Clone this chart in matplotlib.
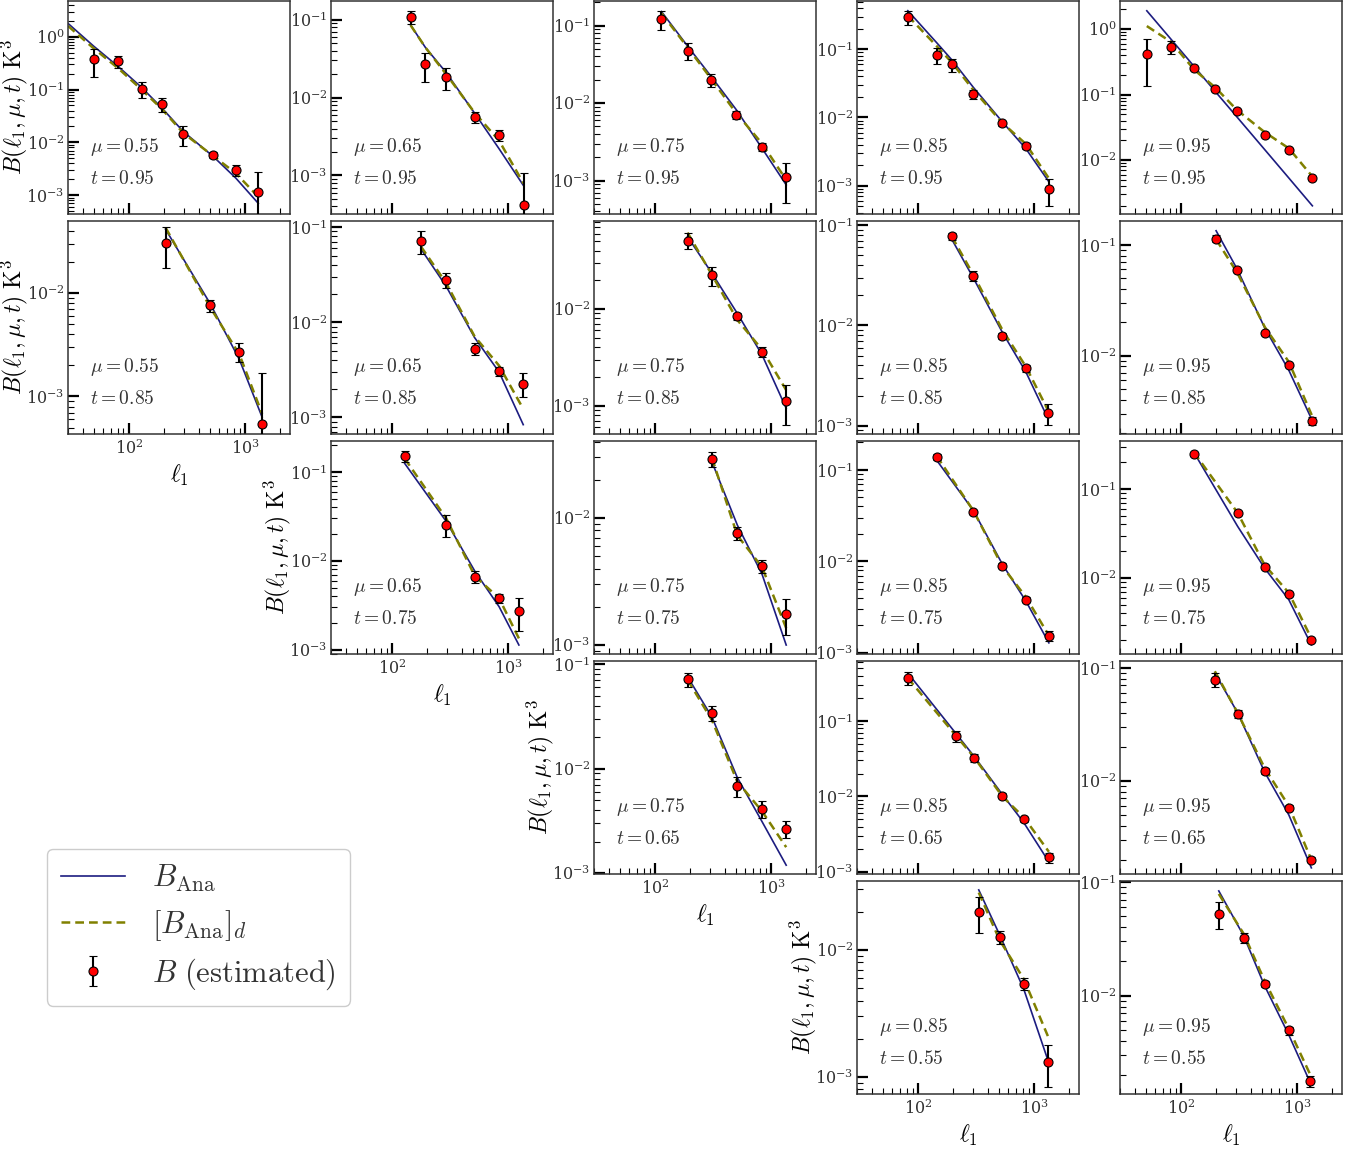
import numpy as np
import matplotlib
matplotlib.use('Agg')
import matplotlib.pyplot as plt

plt.rcParams['mathtext.fontset'] = 'cm'
plt.rcParams['font.family'] = ['DejaVu Serif']
plt.rcParams['text.color'] = '#333333'
plt.rcParams['xtick.labelcolor'] = '#333333'
plt.rcParams['ytick.labelcolor'] = '#333333'

nan = np.nan
mu_vals = [0.55, 0.65, 0.75, 0.85, 0.95]
t_vals = [0.95, 0.85, 0.75, 0.65, 0.55]

# keys are (t, mu)
ell = {
    (0.95, 0.55): [30, 50, 81.5, 128.6, 192, 294, 532, 832, 1297],
    (0.95, 0.65): [145, 194.5, 293, 519, 836, 1356],
    (0.95, 0.75): [114, 192, 302, 502, 836, 1347],
    (0.95, 0.85): [82, 147, 196, 300, 534, 848, 1339],
    (0.95, 0.95): [51, 82, 131, 198, 304, 525, 848, 1352],
    (0.85, 0.55): [207, 500, 893, 1400],
    (0.85, 0.65): [178, 293, 515, 836, 1348],
    (0.85, 0.75): [191, 310, 512, 836, 1347],
    (0.85, 0.85): [196, 300, 534, 848, 1312],
    (0.85, 0.95): [201, 306, 528, 848, 1334],
    (0.75, 0.65): [129, 293, 519, 836, 1237],
    (0.75, 0.75): [310, 512, 836, 1347],
    (0.75, 0.85): [145, 300, 534, 848, 1339],
    (0.75, 0.95): [129, 308, 525, 848, 1325],
    (0.65, 0.75): [192, 310, 512, 836, 1347],
    (0.65, 0.85): [82, 211, 303, 534, 815, 1339],
    (0.65, 0.95): [196, 308, 525, 848, 1325],
    (0.55, 0.85): [334, 506, 815, 1312],
    (0.55, 0.95): [212, 347, 525, 848, 1300],
}

B_est = {
    (0.95, 0.55): [nan, 0.38, 0.344, 0.103, 0.053, 0.0147, 0.00586, 0.0030, 0.00116],
    (0.95, 0.65): [0.108, 0.0267, 0.0182, 0.00565, 0.0033, 0.00042],
    (0.95, 0.75): [0.121, 0.0476, 0.0199, 0.00706, 0.00273, 0.00111],
    (0.95, 0.85): [0.30, 0.0825, 0.060, 0.0219, 0.0083, 0.00383, 0.00089],
    (0.95, 0.95): [0.415, 0.531, 0.254, 0.123, 0.0562, 0.024, 0.0140, 0.00525],
    (0.85, 0.55): [0.0304, 0.00758, 0.00272, 0.00054],
    (0.85, 0.65): [0.0718, 0.028, 0.00526, 0.00306, 0.00227],
    (0.85, 0.75): [0.0509, 0.0223, 0.0084, 0.00362, 0.00113],
    (0.85, 0.85): [0.0777, 0.0311, 0.00783, 0.00373, 0.00133],
    (0.85, 0.95): [0.114, 0.0592, 0.0159, 0.00825, 0.00258],
    (0.75, 0.65): [0.151, 0.0255, 0.00666, 0.0038, 0.00274],
    (0.75, 0.75): [0.0292, 0.0076, 0.0042, 0.00175],
    (0.75, 0.85): [0.139, 0.0348, 0.0090, 0.00384, 0.00155],
    (0.75, 0.95): [0.247, 0.0538, 0.0133, 0.0066, 0.00201],
    (0.65, 0.75): [0.0718, 0.034, 0.00688, 0.00414, 0.00267],
    (0.65, 0.85): [0.371, 0.0633, 0.0324, 0.0103, 0.00496, 0.00156],
    (0.65, 0.95): [0.0783, 0.0392, 0.0123, 0.00577, 0.0020],
    (0.55, 0.85): [0.0199, 0.0127, 0.0054, 0.00131],
    (0.55, 0.95): [0.0524, 0.0323, 0.0127, 0.00493, 0.00176],
}

B_err = {
    (0.95, 0.55): [nan, 0.21, 0.085, 0.034, 0.015, 0.006, 0.0007, 0.0007, 0.0016],
    (0.95, 0.65): [0.021, 0.0107, 0.0055, 0.0009, 0.00055, 0.00066],
    (0.95, 0.75): [0.032, 0.012, 0.0039, 0.0009, 0.00035, 0.0006],
    (0.95, 0.85): [0.07, 0.022, 0.013, 0.0033, 0.0007, 0.0004, 0.00038],
    (0.95, 0.95): [0.28, 0.12, 0.01, 0.005, 0.002, 0.001, 0.0006, 0.0002],
    (0.85, 0.55): [0.013, 0.001, 0.00055, 0.00115],
    (0.85, 0.65): [0.02, 0.005, 0.00075, 0.00035, 0.00063],
    (0.85, 0.75): [0.0096, 0.0048, 0.0007, 0.00045, 0.0005],
    (0.85, 0.85): [0.006, 0.0036, 0.0005, 0.0003, 0.00032],
    (0.85, 0.95): [0.008, 0.002, 0.0006, 0.0004, 0.0002],
    (0.75, 0.65): [0.022, 0.007, 0.001, 0.0004, 0.0011],
    (0.75, 0.75): [0.004, 0.0009, 0.0005, 0.00055],
    (0.75, 0.85): [0.012, 0.002, 0.0005, 0.0002, 0.0002],
    (0.75, 0.95): [0.012, 0.003, 0.0006, 0.0003, 0.0001],
    (0.65, 0.75): [0.011, 0.0055, 0.0015, 0.0008, 0.0005],
    (0.65, 0.85): [0.07, 0.01, 0.004, 0.0007, 0.0004, 0.00025],
    (0.65, 0.95): [0.011, 0.003, 0.0007, 0.0003, 0.0001],
    (0.55, 0.85): [0.0064, 0.0015, 0.0006, 0.00047],
    (0.55, 0.95): [0.014, 0.003, 0.0007, 0.0004, 0.0002],
}

B_ana = {
    (0.95, 0.55): [1.79, 0.66, 0.27, 0.11, 0.045, 0.016, 0.0054, 0.0021, 0.0007],
    (0.95, 0.65): [0.0855, 0.044, 0.021, 0.0062, 0.0022, 0.00074],
    (0.95, 0.75): [0.152, 0.054, 0.0225, 0.0082, 0.0026, 0.00088],
    (0.95, 0.85): [0.368, 0.122, 0.070, 0.0277, 0.0086, 0.0035, 0.00114],
    (0.95, 0.95): [1.90, 0.705, 0.265, 0.111, 0.0454, 0.0145, 0.00532, 0.0020],
    (0.85, 0.55): [0.0412, 0.0079, 0.00227, 0.00063],
    (0.85, 0.65): [0.059, 0.0239, 0.0069, 0.0030, 0.00084],
    (0.85, 0.75): [0.0559, 0.0234, 0.0090, 0.00335, 0.00094],
    (0.85, 0.85): [0.072, 0.0297, 0.0085, 0.00345, 0.00119],
    (0.85, 0.95): [0.134, 0.060, 0.0177, 0.0074, 0.00267],
    (0.75, 0.65): [0.125, 0.0279, 0.0076, 0.00305, 0.00113],
    (0.75, 0.75): [0.0276, 0.0088, 0.0036, 0.0010],
    (0.75, 0.85): [0.128, 0.036, 0.0093, 0.0037, 0.00129],
    (0.75, 0.95): [0.26, 0.038, 0.0129, 0.0057, 0.00177],
    (0.65, 0.75): [0.075, 0.031, 0.0082, 0.0031, 0.00119],
    (0.65, 0.85): [0.432, 0.0694, 0.0344, 0.0106, 0.0045, 0.00136],
    (0.65, 0.95): [0.0903, 0.040, 0.0120, 0.0050, 0.0017],
    (0.55, 0.85): [0.0297, 0.0131, 0.0049, 0.00136],
    (0.55, 0.95): [0.0834, 0.0336, 0.0122, 0.0045, 0.0017],
}

B_ana_d = {
    (0.95, 0.55): [1.6, 0.6, 0.25, 0.1, 0.043, 0.015, 0.0055, 0.0026, 0.00093],
    (0.95, 0.65): [0.085, 0.044, 0.020, 0.0063, 0.0028, 0.00079],
    (0.95, 0.75): [0.145, 0.052, 0.021, 0.0074, 0.0030, 0.00102],
    (0.95, 0.85): [0.31, 0.109, 0.064, 0.0254, 0.0083, 0.0041, 0.00128],
    (0.95, 0.95): [1.11, 0.64, 0.237, 0.128, 0.058, 0.0267, 0.0151, 0.0056],
    (0.85, 0.55): [0.0428, 0.0073, 0.00254, 0.00068],
    (0.85, 0.65): [0.0625, 0.0259, 0.0071, 0.0035, 0.00123],
    (0.85, 0.75): [0.0617, 0.0225, 0.0077, 0.0038, 0.00145],
    (0.85, 0.85): [0.0766, 0.032, 0.0090, 0.0039, 0.00144],
    (0.85, 0.95): [0.112, 0.0558, 0.0181, 0.0088, 0.00292],
    (0.75, 0.65): [0.142, 0.0302, 0.0067, 0.0038, 0.00134],
    (0.75, 0.75): [0.0297, 0.0073, 0.0041, 0.00136],
    (0.75, 0.85): [0.142, 0.036, 0.0088, 0.0041, 0.00155],
    (0.75, 0.95): [0.26, 0.054, 0.0140, 0.0068, 0.0021],
    (0.65, 0.75): [0.0703, 0.029, 0.0075, 0.0039, 0.00177],
    (0.65, 0.85): [0.371, 0.065, 0.0334, 0.0100, 0.0053, 0.00185],
    (0.65, 0.95): [0.0933, 0.040, 0.0130, 0.0060, 0.0020],
    (0.55, 0.85): [0.0283, 0.0119, 0.0059, 0.0021],
    (0.55, 0.95): [0.0785, 0.035, 0.0135, 0.0051, 0.0020],
}

ylims = {
    (0.95, 0.55): (4.4e-4, 4.75),
    (0.95, 0.65): (3.2e-4, 0.174),
    (0.95, 0.75): (3.7e-4, 0.208),
    (0.95, 0.85): (3.85e-4, 0.51),
    (0.95, 0.95): (1.5e-3, 2.68),
    (0.85, 0.55): (4.34e-4, 0.0496),
    (0.85, 0.65): (6.7e-4, 0.116),
    (0.85, 0.75): (5.1e-4, 0.0813),
    (0.85, 0.85): (8.3e-4, 0.1096),
    (0.85, 0.95): (1.97e-3, 0.164),
    (0.75, 0.65): (8.95e-4, 0.2235),
    (0.75, 0.75): (8.5e-4, 0.0404),
    (0.75, 0.85): (9.75e-4, 0.207),
    (0.75, 0.95): (1.4e-3, 0.346),
    (0.65, 0.75): (9.8e-4, 0.107),
    (0.65, 0.85): (9.4e-4, 0.624),
    (0.65, 0.95): (1.5e-3, 0.115),
    (0.55, 0.85): (7.35e-4, 0.0349),
    (0.55, 0.95): (1.36e-3, 0.102),
}

fig = plt.figure(figsize=(13.64, 11.5), dpi=100)

W, H = 1364.0, 1150.0
handles = None
for key in ell:
    t, mu = key
    r = t_vals.index(t)
    c = mu_vals.index(mu)
    left = (68 + c * 263) / W
    bottom = 1 - (214 + r * 220) / H
    ax = fig.add_axes([left, bottom, 222 / W, 213 / H])
    ax.set_xscale('log')
    ax.set_yscale('log')

    l1, = ax.plot(ell[key], B_ana[key], color='#1c1c80', lw=1.2)
    l2, = ax.plot(ell[key], B_ana_d[key], color='#808000', ls='--', lw=1.8, dashes=(3.5, 2))
    eb = ax.errorbar(ell[key], B_est[key], yerr=B_err[key], fmt='o', color='red',
                     mec='black', mew=0.8, ms=6.5, ecolor='black', elinewidth=1.5,
                     capsize=3, capthick=1.2, zorder=3)
    if handles is None:
        handles = [l1, l2, eb]

    ax.set_xlim(30, 2430)
    ax.set_ylim(*ylims[key])

    ax.text(0.1, 0.29, r'$\mu = %.2f$' % mu, transform=ax.transAxes, fontsize=14)
    ax.text(0.1, 0.14, r'$t = %.2f$' % t, transform=ax.transAxes, fontsize=14)

    for s in ax.spines.values():
        s.set_color('#333333')
        s.set_linewidth(1.1)
    ax.tick_params(which='both', direction='in', top=False, right=False, labelsize=11.5)
    ax.tick_params(axis='y', which='both', pad=2.5)
    ax.tick_params(which='major', length=8, width=1.6)
    ax.tick_params(which='minor', length=4, width=0.8)

    last_row = max(t_vals.index(k[0]) for k in ell if k[1] == mu)
    if r == last_row:
        ax.set_xlabel(r'$\ell_1$', fontsize=17)
    else:
        ax.tick_params(axis='x', which='both', labelbottom=False)

    first_col = min(mu_vals.index(k[1]) for k in ell if k[0] == t)
    if c == first_col:
        ax.set_ylabel(r'$B(\ell_1, \mu, t)\ \mathrm{K}^3$', fontsize=17)
        ax.yaxis.set_label_coords(-0.17, 0.5)

fig.legend(handles, [r'$B_{\mathrm{Ana}}$', r'$[B_{\mathrm{Ana}}]_d$', r'$B\ (\mathrm{estimated})$'],
           loc='upper left', bbox_to_anchor=(47 / W, 1 - 849 / H), borderaxespad=0,
           fontsize=22, handlelength=2.1, handletextpad=0.9, labelspacing=0.45,
           borderpad=0.45, edgecolor='#cccccc', framealpha=1)

fig.savefig('out.png', dpi=100)
